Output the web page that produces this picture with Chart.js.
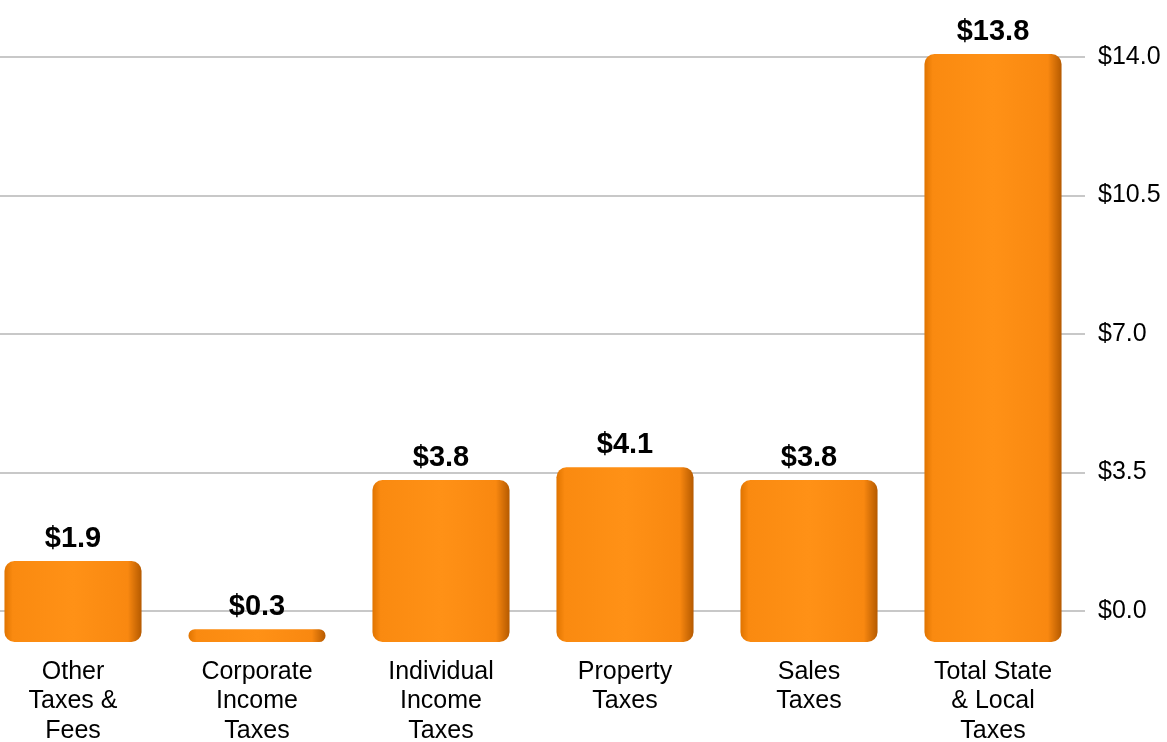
<!DOCTYPE html>
<html>
<head>
<meta charset="utf-8">
<script src="https://cdn.jsdelivr.net/npm/chart.js@4/dist/chart.umd.min.js"></script>
<style>
  html, body { margin: 0; padding: 0; background: #ffffff; overflow: hidden; }
  #wrap { position: absolute; left: -19px; top: 0; width: 1186px; height: 742px; }
</style>
</head>
<body>
<div id="wrap"><canvas id="c" width="1186" height="742"></canvas></div>
<script>
const categories = [
  ["Other", "Taxes &", "Fees"],
  ["Corporate", "Income", "Taxes"],
  ["Individual", "Income", "Taxes"],
  ["Property", "Taxes"],
  ["Sales", "Taxes"],
  ["Total State", "& Local", "Taxes"]
];
const values = [1.9, 0.3, 3.8, 4.1, 3.8, 13.8];
const tickValues = [0, 3.5, 7.0, 10.5, 14.0];

const FONT = "'Liberation Sans', Arial, Helvetica, sans-serif";

const valueLabels = {
  id: 'valueLabels',
  afterDatasetsDraw(chart) {
    const ctx = chart.ctx;
    const meta = chart.getDatasetMeta(0);
    ctx.save();
    ctx.font = "bold 29px " + FONT;
    ctx.fillStyle = '#000000';
    ctx.textAlign = 'center';
    ctx.textBaseline = 'alphabetic';
    meta.data.forEach((bar, i) => {
      ctx.fillText('$' + values[i].toFixed(1), bar.x, bar.y - 14);
    });
    ctx.restore();
  }
};

new Chart(document.getElementById('c'), {
  type: 'bar',
  data: {
    labels: categories,
    datasets: [{
      data: values,
      yAxisID: 'yBars',
      barPercentage: 0.745,
      categoryPercentage: 1.0,
      borderRadius: 10,
      borderSkipped: false,
      backgroundColor: (c) => {
        const chart = c.chart;
        const xs = chart.scales.x;
        if (!xs || !chart.chartArea) return '#FB8B10';
        const cx = xs.getPixelForValue(c.dataIndex);
        const w = xs.width / categories.length * 0.745;
        const g = chart.ctx.createLinearGradient(cx - w / 2, 0, cx + w / 2, 0);
        g.addColorStop(0, '#E07400');
        g.addColorStop(0.06, '#FA8A10');
        g.addColorStop(0.5, '#FF9116');
        g.addColorStop(0.9, '#F98810');
        g.addColorStop(1, '#B55A00');
        return g;
      }
    }]
  },
  options: {
    responsive: false,
    animation: false,
    layout: { padding: { top: 40, right: 0, bottom: 0, left: 0 } },
    plugins: {
      legend: { display: false },
      tooltip: { enabled: false }
    },
    scales: {
      x: {
        grid: { display: false },
        border: { display: false },
        ticks: {
          color: '#000000',
          font: { family: FONT, size: 25, lineHeight: 1.18 },
          padding: 4,
          maxRotation: 0,
          autoSkip: false
        },
        afterFit(scale) { scale.height = 97; }
      },
      yBars: {
        type: 'linear',
        display: false,
        min: -0.07,
        max: 14.13
      },
      y: {
        type: 'linear',
        position: 'right',
        min: -0.859,
        max: 14.43,
        afterBuildTicks(scale) {
          scale.ticks = tickValues.map(v => ({ value: v }));
        },
        afterFit(scale) { scale.width = 82; },
        grid: {
          color: '#C8C8C8',
          lineWidth: 2,
          drawTicks: false
        },
        border: { display: false },
        ticks: {
          color: '#000000',
          font: { family: FONT, size: 25 },
          padding: 13,
          callback: (v) => '$' + Number(v).toFixed(1)
        }
      }
    }
  },
  plugins: [valueLabels]
});
</script>
</body>
</html>
